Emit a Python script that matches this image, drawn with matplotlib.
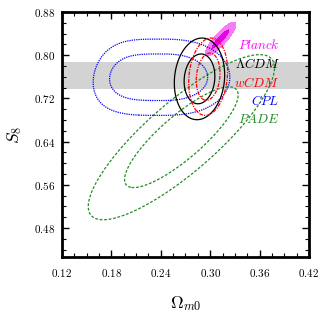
import numpy as np
import matplotlib
matplotlib.use("Agg")
import matplotlib.pyplot as plt
from matplotlib.ticker import MultipleLocator, FormatStrFormatter

plt.rcParams['mathtext.fontset'] = 'cm'
plt.rcParams['font.family'] = ['DejaVu Serif']

# ---- data ----
models = [r'$Planck$', r'$\Lambda CDM$', r'$wCDM$', r'$CPL$', r'$PADE$']
colors = ['#ff00ff', 'black', 'red', 'blue', '#228B22']
# Gaussian summaries of the posteriors: mean, sigma, correlation
om_mean = [0.3127, 0.2870, 0.2975, 0.2408, 0.2650]
s8_mean = [0.8300, 0.7560, 0.7600, 0.7590, 0.6480]
om_sigma = [0.0075, 0.0123, 0.0095, 0.0403, 0.0455]
s8_sigma = [0.0125, 0.0304, 0.0288, 0.0284, 0.0615]
corr = [0.86, 0.10, 0.15, 0.0, 0.84]
# CPL non-Gaussian shape in Omega_m0 (generalised exponents, low-Omega tail)
cpl_left_sigma = 0.0500
cpl_left_power = 3.6
cpl_right_power = 2.52
cpl_tail_drop = 200.0
# KiDS-like band
band_s8 = [0.737, 0.787]
# delta chi^2 levels of 68% and 95% regions
levels = [2.30, 6.18]

xlim = (0.1199, 0.4201)
ylim = (0.426, 0.8801)

fig = plt.figure(figsize=(3.26, 3.12), dpi=100)
ax = fig.add_axes([0.190, 0.176, 0.758, 0.786])

ax.axhspan(band_s8[0], band_s8[1], color='#d3d3d3', zorder=0, lw=0)

om = np.linspace(0.10, 0.44, 700)
s8 = np.linspace(0.40, 0.90, 700)
X, Y = np.meshgrid(om, s8)


def gauss_chi2(i):
    dx = (X - om_mean[i]) / om_sigma[i]
    dy = (Y - s8_mean[i]) / s8_sigma[i]
    r = corr[i]
    return (dx**2 - 2*r*dx*dy + dy**2) / (1 - r**2)


def cpl_chi2(i):
    dx = X - om_mean[i]
    neg = np.minimum(dx, 0)
    yc = s8_mean[i] - cpl_tail_drop * neg**4
    xs = np.where(dx < 0, (np.abs(dx) / cpl_left_sigma)**cpl_left_power,
                  (np.abs(dx) / om_sigma[i])**cpl_right_power)
    return xs + ((Y - yc) / s8_sigma[i])**2


# Planck filled
c0 = gauss_chi2(0)
ax.contourf(X, Y, c0, levels=[0, levels[0], levels[1]],
            colors=['#e600e6', '#f47cf4'], zorder=2)

styles = {1: '-', 2: (0, (3.0, 1.0, 1.0, 1.0)), 3: (0, (1.0, 0.8)), 4: (0, (2.2, 1.4))}
for i in [4, 3, 1, 2]:
    c = cpl_chi2(i) if i == 3 else gauss_chi2(i)
    ax.contour(X, Y, c, levels=levels, colors=[colors[i]],
               linewidths=0.9, linestyles=[styles[i]], zorder=3)

# labels
label_y = [0.8185, 0.7834, 0.7489, 0.715, 0.6813]
for i in range(5):
    ax.text(0.3846, label_y[i], models[i], color=colors[i], fontsize=9.5,
            ha='right', va='center', zorder=5)

ax.set_xlim(*xlim)
ax.set_ylim(*ylim)
ax.xaxis.set_major_locator(MultipleLocator(0.06))
ax.xaxis.set_minor_locator(MultipleLocator(0.015))
ax.yaxis.set_major_locator(MultipleLocator(0.08))
ax.yaxis.set_minor_locator(MultipleLocator(0.02))
ax.xaxis.set_major_formatter(FormatStrFormatter(r'$%.2f$'))
ax.yaxis.set_major_formatter(FormatStrFormatter(r'$%.2f$'))
ax.tick_params(which='both', direction='in', top=True, right=True,
               labelsize=8, color='black')
ax.tick_params(which='major', length=5, width=1.0, pad=5)
ax.tick_params(which='minor', length=3, width=0.8)
ax.tick_params(axis='x', which='major', pad=7)
for s in ax.spines.values():
    s.set_linewidth(2.0)

ax.set_xlabel(r'$\Omega_{m0}$', fontsize=12.5, labelpad=11)
ax.set_ylabel(r'$S_8$', fontsize=12.5, labelpad=7)

fig.savefig('out.png', dpi=100)
